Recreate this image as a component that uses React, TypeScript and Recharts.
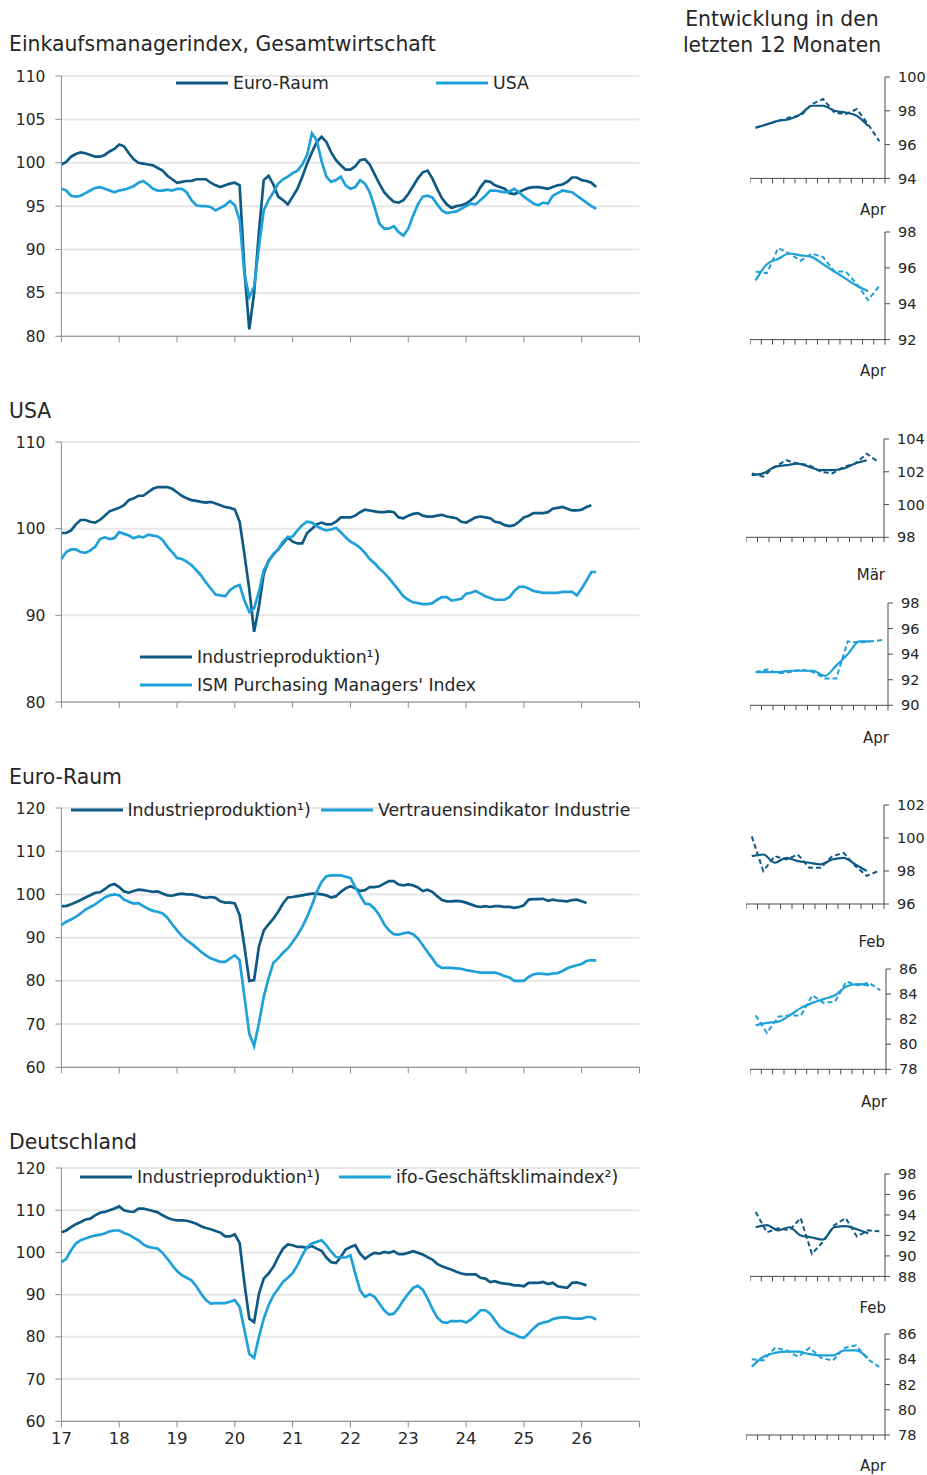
import React from 'react';
import { LineChart, Line, XAxis, YAxis, CartesianGrid, Label } from 'recharts';

const DARK = '#0e5a84';
const LIGHT = '#1ea0d9';
const TEXT = '#262626';
const FONT = '"DejaVu Sans", "Noto Sans", sans-serif';

// ---------- axis categories ----------
const yearTicks = [0, 12, 24, 36, 48, 60, 72, 84, 96, 108, 120]; // January of each year, month index from Jan 2017
const yearLabels = ['17', '18', '19', '20', '21', '22', '23', '24', '25', '26', ''];
const slotTicks = [0, 1, 2, 3, 4, 5, 6, 7, 8, 9, 10, 11, 12];

// ---------- Panel 1: Einkaufsmanagerindex (Jan 2017 - Apr 2026) ----------
const pmiEuro = [
  99.8, 100.1, 100.7, 101.0, 101.2, 101.1, 100.9, 100.7, 100.7, 100.9, 101.3, 101.6,
  102.1, 101.9, 101.1, 100.4, 100.0, 99.9, 99.8, 99.7, 99.4, 99.1, 98.5, 98.1,
  97.7, 97.8, 97.9, 97.9, 98.1, 98.1, 98.1, 97.7, 97.4, 97.2, 97.4, 97.6,
  97.7, 97.4, 87.6, 80.8, 85.0, 92.0, 98.0, 98.5, 97.5, 96.1, 95.7, 95.2,
  96.1, 97.0, 98.4, 99.9, 101.2, 102.4, 103.0, 102.4, 101.2, 100.3, 99.7, 99.2,
  99.2, 99.6, 100.3, 100.4, 99.8, 98.7, 97.6, 96.6, 96.0, 95.5, 95.4, 95.7,
  96.4, 97.3, 98.2, 98.9, 99.1, 98.2, 97.0, 95.9, 95.2, 94.8, 95.0, 95.1,
  95.3, 95.7, 96.2, 97.2, 97.9, 97.8, 97.4, 97.2, 97.0, 96.5, 96.4, 96.6,
  96.9, 97.1, 97.2, 97.2, 97.1, 97.0, 97.2, 97.4, 97.5, 97.8, 98.3, 98.3,
  98.0, 97.9, 97.7, 97.2,
];
const pmiUSA = [
  97.0, 96.8, 96.2, 96.1, 96.2, 96.5, 96.8, 97.1, 97.2, 97.0, 96.8, 96.6,
  96.8, 96.9, 97.1, 97.3, 97.7, 97.9, 97.5, 97.0, 96.8, 96.8, 96.9, 96.8,
  97.0, 97.0, 96.6, 95.7, 95.1, 95.0, 95.0, 94.9, 94.5, 94.8, 95.1, 95.6,
  95.1, 93.4, 87.2, 84.5, 85.7, 90.3, 94.5, 95.7, 96.6, 97.6, 98.1, 98.4,
  98.8, 99.1, 99.8, 100.9, 103.4, 102.6, 100.2, 98.4, 97.8, 98.0, 98.4, 97.4,
  97.0, 97.2, 98.0, 97.6, 96.6, 94.9, 93.0, 92.4, 92.4, 92.7, 92.0, 91.6,
  92.4, 93.9, 95.2, 96.1, 96.2, 96.0, 95.2, 94.5, 94.2, 94.3, 94.4, 94.7,
  95.0, 95.3, 95.2, 95.7, 96.2, 96.8, 96.8, 96.7, 96.6, 96.7, 97.0, 96.6,
  96.1, 95.7, 95.3, 95.1, 95.4, 95.3, 96.2, 96.5, 96.8, 96.7, 96.6, 96.2,
  95.8, 95.4, 95.0, 94.7,
];

// ---------- Panel 2: USA (IP until Mar 2026, ISM until Apr 2026) ----------
const usIP = [
  99.5, 99.5, 99.8, 100.5, 101.0, 101.0, 100.8, 100.7, 101.0, 101.5, 102.0, 102.2,
  102.4, 102.7, 103.3, 103.5, 103.8, 103.8, 104.2, 104.6, 104.8, 104.8, 104.8, 104.6,
  104.2, 103.8, 103.5, 103.3, 103.2, 103.1, 103.0, 103.1, 102.9, 102.7, 102.5, 102.4,
  102.2, 100.8, 97.0, 93.0, 88.1, 91.0, 94.8, 96.3, 97.0, 97.6, 98.3, 99.0,
  98.5, 98.3, 98.3, 99.5, 100.0, 100.5, 100.7, 100.5, 100.5, 100.8, 101.3, 101.3,
  101.3, 101.5, 101.9, 102.2, 102.1, 102.0, 101.9, 101.9, 102.0, 101.9, 101.3, 101.2,
  101.5, 101.7, 101.8, 101.5, 101.4, 101.4, 101.5, 101.6, 101.4, 101.3, 101.2, 100.8,
  100.7, 101.0, 101.3, 101.4, 101.3, 101.2, 100.8, 100.7, 100.4, 100.3, 100.4, 100.8,
  101.3, 101.5, 101.8, 101.8, 101.8, 101.9, 102.3, 102.4, 102.5, 102.3, 102.1, 102.1,
  102.2, 102.5, 102.7,
];
const usISM = [
  96.5, 97.3, 97.6, 97.6, 97.3, 97.2, 97.5, 97.9, 98.8, 99.0, 98.8, 98.9,
  99.6, 99.4, 99.2, 98.9, 99.1, 99.0, 99.3, 99.2, 99.1, 98.7, 97.9, 97.3,
  96.6, 96.5, 96.2, 95.8, 95.2, 94.6, 93.8, 93.1, 92.4, 92.3, 92.2, 92.9,
  93.3, 93.5, 91.7, 90.4, 90.8, 92.7, 95.2, 96.2, 97.1, 97.6, 98.5, 99.0,
  99.1, 99.8, 100.4, 100.8, 100.7, 100.3, 100.0, 99.8, 99.9, 100.1, 99.6, 99.0,
  98.5, 98.2, 97.8, 97.2, 96.5, 96.0, 95.4, 94.9, 94.3, 93.6, 92.9, 92.2,
  91.8, 91.5, 91.4, 91.3, 91.3, 91.4, 91.8, 92.1, 92.1, 91.7, 91.8, 91.9,
  92.5, 92.6, 92.8, 92.5, 92.2, 92.0, 91.8, 91.8, 91.8, 92.1, 92.8, 93.3,
  93.3, 93.1, 92.8, 92.7, 92.6, 92.6, 92.6, 92.6, 92.7, 92.7, 92.7, 92.3,
  93.1, 94.0, 95.0, 95.0,
];

// ---------- Panel 3: Euro-Raum (IP until Feb 2026, confidence until Apr 2026) ----------
const euIP = [
  97.3, 97.3, 97.7, 98.2, 98.7, 99.3, 99.8, 100.4, 100.5, 101.2, 102.1, 102.4,
  101.7, 100.7, 100.4, 100.8, 101.1, 101.0, 100.8, 100.6, 100.7, 100.2, 99.8, 99.7,
  100.0, 100.2, 100.0, 100.0, 99.8, 99.4, 99.2, 99.4, 99.2, 98.4, 98.1, 98.1,
  97.9, 95.2, 87.9, 80.0, 80.2, 87.9, 91.6, 93.1, 94.4, 96.0, 97.9, 99.3,
  99.4, 99.6, 99.8, 100.0, 100.2, 100.2, 100.0, 99.8, 99.3, 99.6, 100.6, 101.4,
  101.9, 101.4, 100.8, 101.0, 101.7, 101.7, 101.9, 102.5, 103.1, 103.1, 102.3, 102.1,
  102.3, 102.1, 101.6, 100.8, 101.1, 100.6, 99.6, 98.7, 98.4, 98.4, 98.5, 98.4,
  98.1, 97.7, 97.3, 97.1, 97.3, 97.1, 97.3, 97.3, 97.1, 97.1, 96.9, 97.1,
  97.5, 98.8, 98.9, 98.9, 99.0, 98.5, 98.8, 98.6, 98.5, 98.4, 98.7, 98.8,
  98.4, 98.0,
];
const euConf = [
  92.9, 93.7, 94.2, 94.8, 95.6, 96.5, 97.1, 97.7, 98.5, 99.3, 99.8, 100.0,
  99.8, 98.8, 98.3, 97.9, 98.0, 97.3, 96.7, 96.2, 96.0, 95.6, 94.6, 93.1,
  91.7, 90.4, 89.4, 88.6, 87.7, 86.7, 85.9, 85.2, 84.8, 84.4, 84.4, 85.2,
  85.9, 84.8, 76.3, 67.8, 64.9, 70.2, 76.3, 80.6, 84.2, 85.2, 86.5, 87.5,
  89.0, 90.6, 92.5, 94.8, 97.5, 100.6, 102.9, 104.2, 104.4, 104.4, 104.4, 104.1,
  103.8, 101.7, 99.8, 97.9, 97.7, 96.7, 95.2, 93.1, 91.7, 90.8, 90.7, 91.0,
  91.2, 90.8, 89.8, 88.3, 86.7, 85.2, 83.6, 83.0, 83.0, 83.0, 82.9, 82.8,
  82.5, 82.3, 82.1, 81.9, 81.9, 81.9, 81.9, 81.6, 81.1, 80.8, 80.0, 80.0,
  80.0, 80.9, 81.5, 81.7, 81.6, 81.5, 81.7, 81.8, 82.3, 82.9, 83.3, 83.6,
  83.9, 84.6, 84.8, 84.7,
];

// ---------- Panel 4: Deutschland (IP until Feb 2026, ifo until Apr 2026) ----------
const deIP = [
  104.8, 105.2, 106.0, 106.7, 107.2, 107.8, 108.0, 108.8, 109.4, 109.6, 110.0, 110.4,
  110.9, 110.0, 109.7, 109.6, 110.4, 110.4, 110.1, 109.8, 109.5, 108.8, 108.2, 107.8,
  107.6, 107.6, 107.5, 107.2, 106.8, 106.2, 105.8, 105.5, 105.1, 104.7, 103.8, 103.8,
  104.3, 102.2, 92.6, 84.3, 83.5, 90.2, 93.8, 95.0, 96.6, 98.9, 100.9, 101.9,
  101.7, 101.3, 101.3, 101.1, 101.5, 100.9, 100.4, 98.8, 97.7, 97.5, 98.9, 100.7,
  101.3, 101.7, 99.7, 98.5, 99.3, 99.9, 99.7, 100.1, 99.9, 100.3, 99.6, 99.6,
  99.9, 100.3, 99.9, 99.5, 98.9, 98.3, 97.3, 96.7, 96.3, 95.9, 95.4, 95.0,
  94.8, 94.8, 94.8, 94.0, 93.8, 93.0, 93.2, 92.8, 92.6, 92.5, 92.2, 92.2,
  92.0, 92.8, 92.8, 92.8, 93.0, 92.5, 92.8, 92.0, 91.8, 91.6, 92.8, 92.9,
  92.6, 92.2,
];
const deIfo = [
  97.7, 98.5, 100.5, 102.1, 102.9, 103.3, 103.7, 104.0, 104.2, 104.5, 105.0, 105.2,
  105.2, 104.6, 104.2, 103.5, 102.9, 101.9, 101.3, 101.1, 100.9, 99.9, 98.5, 97.0,
  95.6, 94.6, 94.0, 93.4, 92.0, 90.2, 88.7, 87.9, 88.0, 88.0, 88.0, 88.3,
  88.7, 87.1, 81.6, 76.0, 75.0, 80.0, 84.3, 87.5, 89.8, 91.4, 93.0, 94.0,
  95.1, 97.0, 99.3, 101.3, 102.1, 102.5, 102.9, 101.7, 100.2, 98.9, 98.8, 98.8,
  99.3, 95.0, 91.0, 89.5, 90.1, 89.5, 87.9, 86.3, 85.3, 85.5, 86.9, 88.7,
  90.2, 91.6, 92.1, 91.2, 89.1, 86.7, 84.6, 83.5, 83.3, 83.8, 83.7, 83.8,
  83.4, 84.1, 85.1, 86.3, 86.3, 85.5, 83.9, 82.4, 81.6, 81.0, 80.6, 80.0,
  79.8, 80.8, 82.0, 83.0, 83.4, 83.6, 84.2, 84.5, 84.6, 84.6, 84.4, 84.3,
  84.3, 84.7, 84.7, 84.1,
];

// ---------- last 12 months (dashed = monthly, solid = smoothed) ----------
const sm1Dashed = [97.0, 97.2, 97.4, 97.6, 97.7, 98.4, 98.7, 97.9, 97.8, 98.1, 97.2, 96.2];
const sm1Solid = [97.0, 97.2, 97.4, 97.5, 97.8, 98.3, 98.3, 98.0, 97.9, 97.7, 97.1];
const sm2Dashed = [95.8, 95.7, 97.1, 96.8, 96.4, 96.8, 96.6, 95.8, 95.8, 95.1, 94.2, 95.0];
const sm2Solid = [95.3, 96.2, 96.5, 96.8, 96.7, 96.6, 96.2, 95.8, 95.4, 95.0, 94.7];
const sm3Dashed = [101.9, 101.7, 102.3, 102.7, 102.5, 102.4, 102.0, 101.9, 102.3, 102.5, 103.1, 102.6];
const sm3Solid = [101.8, 101.9, 102.3, 102.4, 102.5, 102.3, 102.1, 102.1, 102.2, 102.5, 102.7];
const sm4Dashed = [92.6, 92.8, 92.5, 92.6, 92.8, 92.6, 92.1, 92.1, 95.0, 94.9, 95.0, 95.1];
const sm4Solid = [92.6, 92.6, 92.6, 92.7, 92.7, 92.7, 92.3, 93.1, 94.0, 95.0, 95.0];
const sm5Dashed = [100.1, 98.0, 98.9, 98.7, 99.0, 98.2, 98.2, 98.9, 99.1, 98.3, 97.7, 98.0];
const sm5Solid = [98.9, 99.0, 98.5, 98.8, 98.6, 98.5, 98.4, 98.7, 98.8, 98.4, 98.0];
const sm6Dashed = [82.3, 80.9, 82.2, 82.3, 82.3, 83.9, 83.3, 83.4, 85.0, 84.7, 84.9, 84.3];
const sm6Solid = [81.5, 81.7, 81.8, 82.3, 82.9, 83.3, 83.6, 83.9, 84.6, 84.8, 84.7];
const sm7Dashed = [94.3, 92.3, 92.7, 92.5, 93.7, 90.2, 91.4, 93.0, 93.7, 91.9, 92.5, 92.4];
const sm7Solid = [92.8, 93.0, 92.5, 92.8, 92.0, 91.8, 91.6, 92.8, 92.9, 92.6, 92.2];
const sm8Dashed = [84.0, 83.9, 84.9, 84.7, 84.2, 84.9, 84.1, 83.9, 84.9, 85.1, 84.0, 83.4];
const sm8Solid = [83.4, 84.2, 84.5, 84.6, 84.6, 84.4, 84.3, 84.3, 84.7, 84.7, 84.1];

const MAIN_W = 660;
const PLOT_LEFT = 61.4;
const PLOT_RIGHT = 639.5;

type MainProps = {
  plotTop: number;
  plotBottom: number;
  domain: [number, number];
  ticks: number[];
  a: number[];
  b: number[];
  showYears?: boolean;
};

function MainPanel({ plotTop, plotBottom, domain, ticks, a, b, showYears }: MainProps) {
  const padTop = 20;
  const axisH = 40;
  const height = plotBottom - plotTop + padTop + axisH;
  const n = Math.max(a.length, b.length);
  const rows = Array.from({ length: n }, (_, i) => ({ m: i, a: a[i], b: b[i] }));
  return (
    <div style={{ position: 'absolute', left: 0, top: plotTop - padTop, width: MAIN_W, height }}>
      <LineChart width={MAIN_W} height={height} data={rows} margin={{ top: padTop, right: MAIN_W - PLOT_RIGHT, bottom: 0, left: 0 }}>
        <CartesianGrid vertical={false} stroke="#e7e7e7" strokeWidth={2} />
        <XAxis
          dataKey="m"
          type="number"
          domain={[0, 120]}
          ticks={yearTicks}
          interval={0}
          height={axisH}
          stroke="#8c8c8c"
          tickSize={6}
          tickMargin={5}
          tickFormatter={(v: number) => (showYears ? yearLabels[yearTicks.indexOf(v)] : '')}
          tick={{ fill: TEXT, fontSize: 16.5, fontFamily: FONT }}
        />
        <YAxis
          type="number"
          domain={domain}
          ticks={ticks}
          interval={0}
          width={PLOT_LEFT}
          stroke="#8c8c8c"
          tickSize={6}
          tickMargin={10}
          tick={{ fill: TEXT, fontSize: 15.5, fontFamily: FONT }}
        />
        <Line dataKey="a" stroke={DARK} strokeWidth={2.7} dot={false} isAnimationActive={false} />
        <Line dataKey="b" stroke={LIGHT} strokeWidth={2.7} dot={false} isAnimationActive={false} />
      </LineChart>
    </div>
  );
}

type SmallProps = {
  left: number;
  axisX: number;
  top: number;
  bottom: number;
  domain: [number, number];
  ticks: number[];
  dashed: number[];
  solid: number[];
  color: string;
  month: string;
  monthDy: number;
};

function SmallPanel({ left, axisX, top, bottom, domain, ticks, dashed, solid, color, month, monthDy }: SmallProps) {
  const padTop = 10;
  const axisH = 50;
  const yw = 42;
  const width = axisX - left + yw;
  const height = bottom - top + padTop + axisH;
  const rows = dashed.map((d, i) => ({ x: i + 0.5, d, s: solid[i] }));
  return (
    <div style={{ position: 'absolute', left, top: top - padTop, width, height }}>
      <LineChart width={width} height={height} data={rows} margin={{ top: padTop, right: 0, bottom: 0, left: 0 }}>
        <XAxis
          dataKey="x"
          type="number"
          domain={[0, 12]}
          ticks={slotTicks}
          interval={0}
          height={axisH}
          stroke="#4a4a4a"
          tickSize={5}
          tickFormatter={() => ''}
        >
          <Label
            content={(p: any) => {
              const vb = p.viewBox || {};
              return (
                <text
                  x={vb.x + vb.width + 1}
                  y={vb.y + monthDy}
                  textAnchor="end"
                  dominantBaseline="central"
                  fill={TEXT}
                  fontSize={15}
                  fontFamily={FONT}
                >
                  {month}
                </text>
              );
            }}
          />
        </XAxis>
        <YAxis
          orientation="right"
          type="number"
          domain={domain}
          ticks={ticks}
          interval={0}
          width={yw}
          stroke="#4a4a4a"
          tickSize={5}
          tickMargin={8}
          tick={{ fill: TEXT, fontSize: 14.5, fontFamily: FONT }}
        />
        <Line dataKey="d" stroke={color} strokeWidth={2} strokeDasharray="5 3" dot={false} isAnimationActive={false} />
        <Line dataKey="s" type="monotone" stroke={color} strokeWidth={2.2} dot={false} isAnimationActive={false} />
      </LineChart>
    </div>
  );
}

function LegendItem({ x, y, color, text }: { x: number; y: number; color: string; text: string }) {
  return (
    <div
      style={{
        position: 'absolute',
        left: x,
        top: y - 12,
        height: 24,
        display: 'flex',
        alignItems: 'center',
        whiteSpace: 'nowrap',
        fontFamily: FONT,
        fontSize: 17.3,
        color: TEXT,
      }}
    >
      <svg width={52} height={4} style={{ marginRight: 5, display: 'block' }}>
        <line x1={0} y1={2} x2={52} y2={2} stroke={color} strokeWidth={3} />
      </svg>
      <span>{text}</span>
    </div>
  );
}

function Title({ x, y, text }: { x: number; y: number; text: string }) {
  return (
    <div style={{ position: 'absolute', left: x, top: y - 12, lineHeight: '24px', fontFamily: FONT, fontSize: 20.4, color: TEXT, whiteSpace: 'nowrap' }}>
      {text}
    </div>
  );
}

export default function App() {
  return (
    <div style={{ position: 'absolute', left: 0, top: 0, width: 927, height: 1475, background: '#fff', overflow: 'hidden' }}>
      <Title x={9} y={44} text="Einkaufsmanagerindex, Gesamtwirtschaft" />
      <Title x={9} y={411} text="USA" />
      <Title x={9} y={777} text="Euro-Raum" />
      <Title x={9} y={1142} text="Deutschland" />
      <div
        style={{
          position: 'absolute',
          left: 662,
          width: 240,
          top: 6,
          textAlign: 'center',
          fontFamily: FONT,
          fontSize: 20.4,
          lineHeight: '26px',
          color: TEXT,
        }}
      >
        Entwicklung in den
        <br />
        letzten 12 Monaten
      </div>

      <MainPanel plotTop={75.7} plotBottom={336} domain={[80, 110]} ticks={[80, 85, 90, 95, 100, 105, 110]} a={pmiEuro} b={pmiUSA} />
      <MainPanel plotTop={441.7} plotBottom={701.7} domain={[80, 110]} ticks={[80, 90, 100, 110]} a={usIP} b={usISM} />
      <MainPanel plotTop={807.7} plotBottom={1067} domain={[60, 120]} ticks={[60, 70, 80, 90, 100, 110, 120]} a={euIP} b={euConf} />
      <MainPanel plotTop={1167.7} plotBottom={1421} domain={[60, 120]} ticks={[60, 70, 80, 90, 100, 110, 120]} a={deIP} b={deIfo} showYears />

      <LegendItem x={176} y={82.7} color={DARK} text="Euro-Raum" />
      <LegendItem x={436} y={82.7} color={LIGHT} text="USA" />
      <LegendItem x={140} y={656.7} color={DARK} text="Industrieproduktion¹)" />
      <LegendItem x={140} y={685} color={LIGHT} text="ISM Purchasing Managers' Index" />
      <LegendItem x={70.5} y={810} color={DARK} text="Industrieproduktion¹)" />
      <LegendItem x={321} y={810} color={LIGHT} text="Vertrauensindikator Industrie" />
      <LegendItem x={80} y={1176.7} color={DARK} text="Industrieproduktion¹)" />
      <LegendItem x={339} y={1176.7} color={LIGHT} text="ifo-Geschäftsklimaindex²)" />

      <SmallPanel left={750} axisX={885} top={77.3} bottom={178.7} domain={[94, 100]} ticks={[94, 96, 98, 100]} dashed={sm1Dashed} solid={sm1Solid} color={DARK} month="Apr" monthDy={32} />
      <SmallPanel left={750} axisX={885} top={231.7} bottom={339.3} domain={[92, 98]} ticks={[92, 94, 96, 98]} dashed={sm2Dashed} solid={sm2Solid} color={LIGHT} month="Apr" monthDy={31} />
      <SmallPanel left={746} axisX={884} top={439} bottom={537.3} domain={[98, 104]} ticks={[98, 100, 102, 104]} dashed={sm3Dashed} solid={sm3Solid} color={DARK} month="Mär" monthDy={38} />
      <SmallPanel left={750} axisX={888} top={602.7} bottom={705} domain={[90, 98]} ticks={[90, 92, 94, 96, 98]} dashed={sm4Dashed} solid={sm4Solid} color={LIGHT} month="Apr" monthDy={33} />
      <SmallPanel left={746} axisX={884} top={805} bottom={904} domain={[96, 102]} ticks={[96, 98, 100, 102]} dashed={sm5Dashed} solid={sm5Solid} color={DARK} month="Feb" monthDy={38} />
      <SmallPanel left={750} axisX={886} top={969} bottom={1069.3} domain={[78, 86]} ticks={[78, 80, 82, 84, 86]} dashed={sm6Dashed} solid={sm6Solid} color={LIGHT} month="Apr" monthDy={33} />
      <SmallPanel left={750} axisX={885} top={1174.3} bottom={1276.7} domain={[88, 98]} ticks={[88, 90, 92, 94, 96, 98]} dashed={sm7Dashed} solid={sm7Solid} color={DARK} month="Feb" monthDy={32} />
      <SmallPanel left={746} axisX={885} top={1334} bottom={1435} domain={[78, 86]} ticks={[78, 80, 82, 84, 86]} dashed={sm8Dashed} solid={sm8Solid} color={LIGHT} month="Apr" monthDy={31} />
    </div>
  );
}
